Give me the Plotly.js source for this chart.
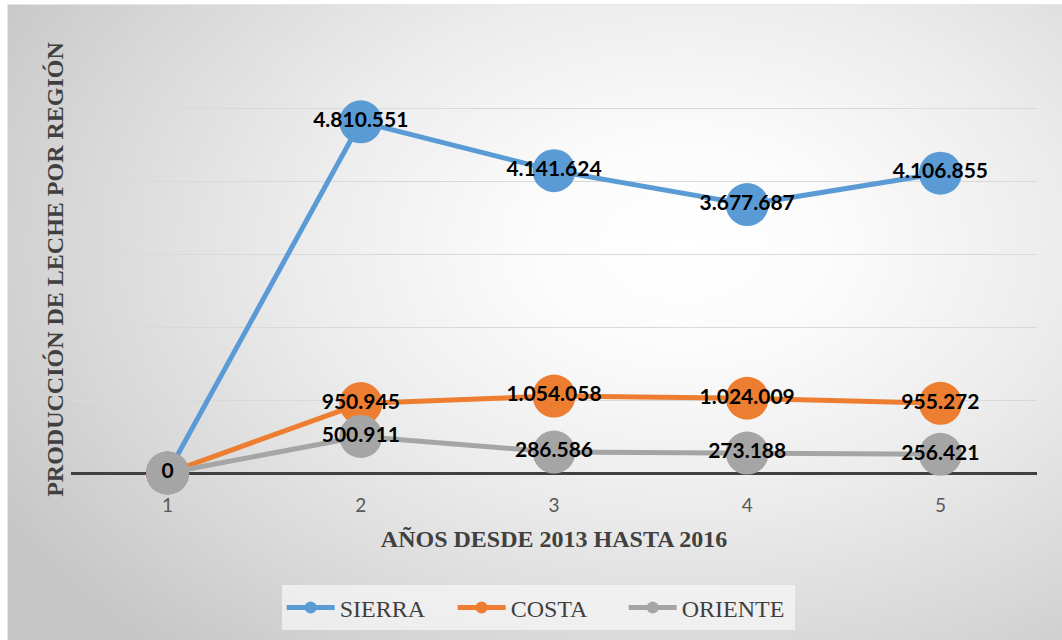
<!DOCTYPE html>
<html>
<head>
<meta charset="utf-8">
<script src="https://cdn.plot.ly/plotly-3.0.1.min.js"></script>
<style>
  html, body { margin: 0; padding: 0; background: #ffffff; width: 1062px; height: 640px; overflow: hidden; }
  #wrap { position: absolute; left: 7px; top: 4px; width: 1055px; height: 636px;
    background: radial-gradient(ellipse 75% 85% at 64% 38%, #ffffff 0%, #fbfbfb 20%, #ececec 48%, #d9d9d9 75%, #c6c6c6 100%);
    border-left: 1px solid #e6e6e6; border-top: 1px solid #e6e6e6; box-sizing: border-box; }
  #chart { width: 1054px; height: 635px; }
</style>
</head>
<body>
<div id="wrap"><div id="chart"></div></div>
<script>
const years = [1, 2, 3, 4, 5];
const tickLabels = ['1', '2', '3', '4', '5'];
const sierra = [0, 4810551, 4141624, 3677687, 4106855];
const costa = [0, 950945, 1054058, 1024009, 955272];
const oriente = [0, 500911, 286586, 273188, 256421];

const serif = 'Liberation Serif, Times New Roman, serif';
const labelFont = { family: 'Lato, Open Sans, sans-serif', size: 21, color: '#000000', weight: 'bold' };

function series(name, y, color) {
  return {
    type: 'scatter', mode: 'lines+markers+text', name: name,
    x: years, y: y,
    line: { color: color, width: 5 },
    marker: { color: color, size: 43, line: { width: 0 } },
    texttemplate: '%{y:,}', textposition: 'middle center',
    textfont: labelFont, cliponaxis: false, hoverinfo: 'skip'
  };
}

const data = [
  series('SIERRA', sierra, '#5b9bd5'),
  series('COSTA', costa, '#ed7d31'),
  series('ORIENTE', oriente, '#a5a5a5')
];

const layout = {
  width: 1054, height: 635,
  margin: { l: 63, r: 25, t: 30, b: 167, autoexpand: false },
  paper_bgcolor: 'rgba(0,0,0,0)', plot_bgcolor: 'rgba(0,0,0,0)',
  font: { family: serif, size: 24, color: '#404040' },
  separators: ',.',
  showlegend: true,
  xaxis: {
    range: [0.5, 5.5], tickvals: years, ticktext: tickLabels,
    showgrid: false, zeroline: false, showline: false, ticks: '',
    ticklabelstandoff: 19, automargin: false,
    tickfont: { family: 'Lato, Open Sans, sans-serif', size: 19, color: '#595959' },
    title: { text: 'AÑOS DESDE 2013 HASTA 2016', standoff: 15,
      font: { family: serif, size: 24, color: '#404040', weight: 'bold' } }
  },
  yaxis: {
    range: [0, 6000000], dtick: 1000000, showticklabels: false, ticks: '',
    showgrid: true, gridcolor: '#d9d9d9', gridwidth: 1, automargin: false,
    zeroline: true, zerolinecolor: '#404040', zerolinewidth: 3, showline: false
  },
  annotations: [{
    text: 'PRODUCCIÓN DE LECHE POR REGIÓN', textangle: -90,
    xref: 'paper', yref: 'paper', x: -0.0166, y: 0.466, xanchor: 'center', yanchor: 'middle',
    showarrow: false,
    font: { family: serif, size: 24, color: '#404040', weight: 'bold' }
  }],
  legend: {
    orientation: 'h', xref: 'container', yref: 'container',
    x: 0.503, xanchor: 'center', y: 0.086, yanchor: 'top',
    bgcolor: 'rgba(246,246,246,0.75)', borderwidth: 0,
    font: { family: serif, size: 24, color: '#404040', weight: 'normal' },
    itemsizing: 'constant', itemwidth: 48, tracegroupgap: 0,
    entrywidth: 108, entrywidthmode: 'pixels'
  }
};

Plotly.newPlot('chart', data, layout, { displayModeBar: false, staticPlot: true });
</script>
</body>
</html>
